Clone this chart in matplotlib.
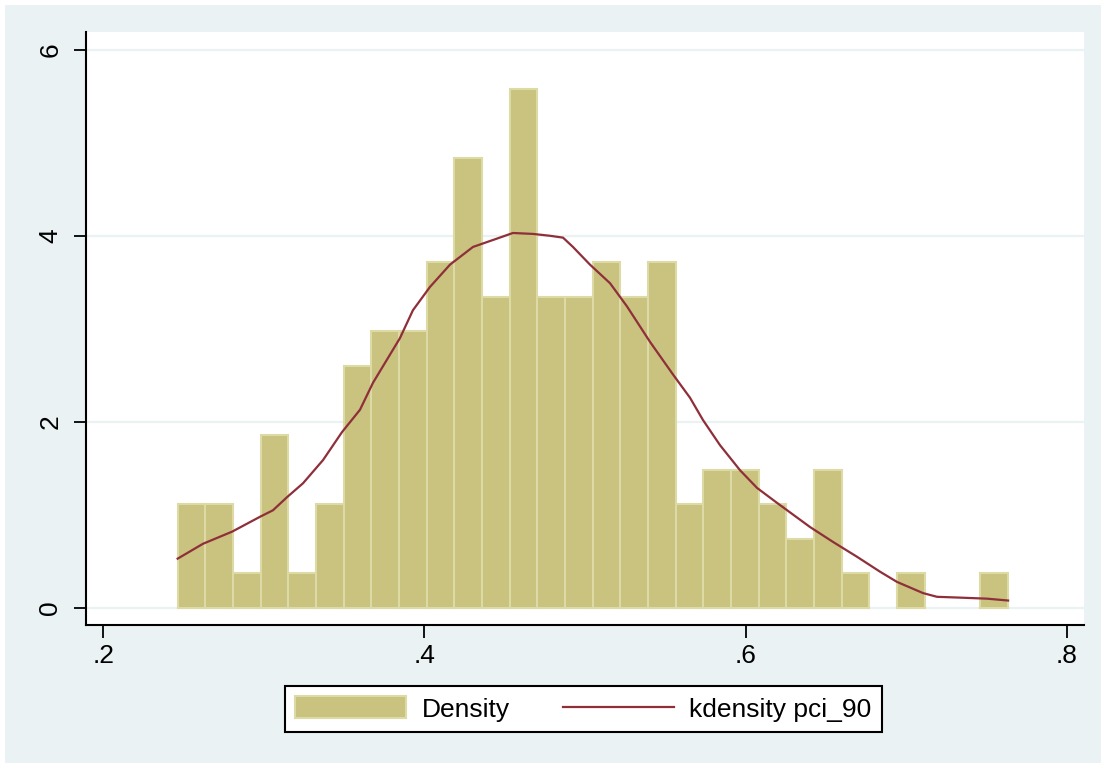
import numpy as np
import matplotlib
matplotlib.use("Agg")
import matplotlib.pyplot as plt
from matplotlib.patches import Rectangle

# histogram: 30 bins, counts per bin (N = 156)
bin_start = 0.2462
bin_width = 0.01724
counts = [3, 3, 1, 5, 1, 3, 7, 8, 8, 10, 13, 9, 15, 9, 9,
          10, 9, 10, 3, 4, 4, 3, 2, 4, 1, 0, 1, 0, 0, 1]

# kernel density curve
kde_x = [0.2462, 0.2620, 0.2801, 0.2975, 0.3056, 0.3143, 0.3243, 0.3368,
         0.3486, 0.3598, 0.3679, 0.3847, 0.3928, 0.4034, 0.4159, 0.4302,
         0.4452, 0.4551, 0.4676, 0.4782, 0.4863, 0.4925, 0.5031, 0.5156,
         0.5262, 0.5405, 0.5548, 0.5654, 0.5735, 0.5841, 0.5966, 0.6072,
         0.6196, 0.6402, 0.6545, 0.6695, 0.6838, 0.6944, 0.7106, 0.7193,
         0.7355, 0.7505, 0.7636]
kde_y = [0.53, 0.69, 0.82, 0.98, 1.05, 1.19, 1.34, 1.59,
         1.89, 2.13, 2.42, 2.90, 3.20, 3.45, 3.69, 3.88,
         3.97, 4.03, 4.02, 4.00, 3.98, 3.88, 3.69, 3.49,
         3.24, 2.86, 2.51, 2.26, 2.02, 1.75, 1.48, 1.29,
         1.13, 0.87, 0.71, 0.55, 0.39, 0.28, 0.16, 0.12,
         0.11, 0.10, 0.08]

xticks = [0.2, 0.4, 0.6, 0.8]
xtick_labels = [".2", ".4", ".6", ".8"]
yticks = [0, 2, 4, 6]

plt.rcParams['font.family'] = ['Liberation Sans', 'DejaVu Sans']

bar_color = "#C9C37F"
bar_edge = "#DEDAA6"
line_color = "#8E2F3A"
bg_color = "#EAF2F3"

fig = plt.figure(figsize=(11.06, 7.68), dpi=100, facecolor="white")
fig.patches.append(Rectangle((5/1106, 5/768), 1096/1106, 758/768,
                             transform=fig.transFigure, facecolor=bg_color,
                             edgecolor="none", zorder=-10))

ax = fig.add_axes([86/1106, 1 - 625/768, 998/1106, 593/768])
ax.set_facecolor("white")

n = sum(counts)
edges = bin_start + bin_width * np.arange(len(counts) + 1)
dens = np.array(counts) / (n * bin_width)
keep = dens > 0
bars = ax.bar(edges[:-1][keep], dens[keep], width=bin_width, align="edge",
              color=bar_color, edgecolor=bar_edge, linewidth=1.5, zorder=2,
              label="Density")
line, = ax.plot(kde_x, kde_y, color=line_color, linewidth=1.6, zorder=3,
                label="kdensity pci_90")

for yv in yticks:
    ax.axhline(yv, color=bg_color, linewidth=1.6, zorder=1)

ax.set_xlim(0.1891, 0.8109)
ax.set_ylim(-0.183, 6.19)
ax.set_xticks(xticks)
ax.set_xticklabels(xtick_labels)
ax.set_yticks(yticks)
ax.set_yticklabels([str(v) for v in yticks], rotation=90, va="center")
ax.tick_params(axis="both", labelsize=19, length=9, width=1.3, color="black")
ax.tick_params(axis="x", pad=5)
ax.tick_params(axis="y", pad=8)

for side in ["top", "right"]:
    ax.spines[side].set_visible(False)
for side in ["left", "bottom"]:
    ax.spines[side].set_linewidth(1.5)

leg = ax.legend([bars, line], ["Density", "kdensity pci_90"],
                loc="center", bbox_to_anchor=(583.5/1106, 1 - 709/768),
                bbox_transform=fig.transFigure, ncol=2, fontsize=19,
                frameon=True, fancybox=False, edgecolor="black",
                facecolor="white", framealpha=1,
                handlelength=4.2, handleheight=0.9, handletextpad=0.6,
                columnspacing=2.0, borderpad=0.4, borderaxespad=0)
leg.get_frame().set_linewidth(1.5)

fig.savefig("out.png", dpi=100, facecolor=fig.get_facecolor())
